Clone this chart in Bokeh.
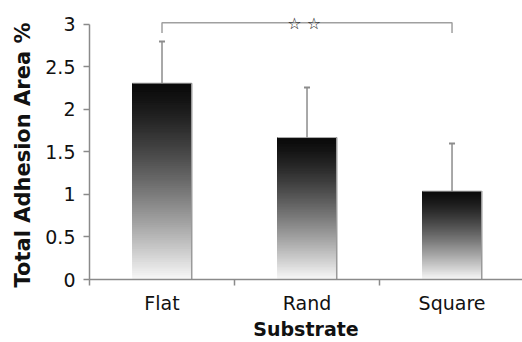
import math
from bokeh.plotting import figure
from bokeh.models import FixedTicker, Range1d, Title
from bokeh.core.properties import value
from bokeh.embed import file_html
from bokeh.resources import INLINE

# ---- data ----
categories = ["Flat", "Rand", "Square"]
means = [2.31, 1.67, 1.04]
errors = [0.49, 0.59, 0.56]
y_ticks = [0, 0.5, 1, 1.5, 2, 2.5, 3]
y_tick_labels = ["0", "0.5", "1", "1.5", "2", "2.5", "3"]
sig_pair = ["Flat", "Square"]
sig_y = 3.02
sig_drop = 2.9
sig_label = "☆ ☆"
x_title = "Substrate"
y_title = "Total Adhesion Area %"

FONT = "DejaVu Sans"
xpos = [i + 0.5 for i in range(len(categories))]
bar_w = 0.41

p = figure(width=522, height=342, output_backend="svg", toolbar_location=None,
           x_range=Range1d(0, 2.986), y_range=Range1d(0, 3.188),
           min_border_left=89, min_border_right=0, min_border_top=8,
           min_border_bottom=63)
p.outline_line_color = None
p.xgrid.visible = False
p.ygrid.visible = False
p.background_fill_color = "white"
p.border_fill_color = "white"

# gradient bars: black at top -> white at bottom (painted bottom-up, each slice to bar top)
N = 90
ql, qr, qb, qt, qc = [], [], [], [], []
for x, m in zip(xpos, means):
    for k in range(N):
        b = m * k / N
        d = 1 - (k + 0.5) / N  # distance from top (0 top, 1 bottom)
        g = int(round(10 + 238 * d ** 1.3))
        ql.append(x - bar_w / 2)
        qr.append(x + bar_w / 2)
        qb.append(b)
        qt.append(m)
        qc.append("#%02x%02x%02x" % (g, g, g))
p.quad(left=ql, right=qr, bottom=qb, top=qt, fill_color=qc, line_color=None)

# bar edge lines (top and right)
rx = [x + bar_w / 2 for x in xpos]
lx = [x - bar_w / 2 for x in xpos]
p.segment(x0=rx, y0=[0] * 3, x1=rx, y1=means, line_color="#9a9a9a", line_width=1.5)
p.segment(x0=lx, y0=means, x1=rx, y1=means, line_color="#b0b0b0", line_width=1)

# error bars (upper only)
tops = [m + e for m, e in zip(means, errors)]
p.segment(x0=xpos, y0=means, x1=xpos, y1=tops, line_color="#8c8c8c", line_width=1.5)
p.scatter(x=xpos, y=tops, marker="dash", size=6, line_color="#8c8c8c", line_width=2)

# significance bracket
i0 = categories.index(sig_pair[0])
i1 = categories.index(sig_pair[1])
bx = [xpos[i0], xpos[i0], xpos[i1], xpos[i1]]
by = [sig_drop, sig_y, sig_y, sig_drop]
p.line(x=bx, y=by, line_color="#a0a0a0", line_width=1.5)
p.text(x=[(xpos[i0] + xpos[i1]) / 2 - 0.02], y=[sig_y - 0.005], text=[sig_label],
       text_font=value(FONT), text_font_size="16px", text_color="#222222",
       text_align="center", text_baseline="alphabetic")

# axes
ya = p.yaxis[0]
ya.ticker = FixedTicker(ticks=y_ticks)
ya.major_label_overrides = {float(t): l for t, l in zip(y_ticks, y_tick_labels)}
ya.bounds = (0, 3)
ya.axis_line_color = "#8a8a8a"
ya.axis_line_width = 1.5
ya.major_tick_line_color = "#8a8a8a"
ya.major_tick_line_width = 1.5
ya.major_tick_out = 6
ya.major_tick_in = 0
ya.minor_tick_line_color = None
ya.major_label_text_font = FONT
ya.major_label_text_font_size = "19px"
ya.major_label_text_color = "#111111"
ya.major_label_standoff = 8

# y title as a left-side title (reference title sits slightly below frame centre)
p.add_layout(Title(text=y_title, align="left", offset=-8, standoff=16,
                   text_font=FONT, text_font_style="bold",
                   text_font_size="21px", text_color="#111111"), "left")

xa = p.xaxis[0]
xa.ticker = FixedTicker(ticks=xpos, minor_ticks=[0, 1, 2])
xa.major_label_overrides = {float(x): c for x, c in zip(xpos, categories)}
xa.axis_line_color = "#8a8a8a"
xa.axis_line_width = 1.5
xa.major_tick_line_color = None
xa.major_tick_out = 0
xa.major_tick_in = 0
xa.minor_tick_line_color = "#8a8a8a"
xa.minor_tick_line_width = 1.5
xa.minor_tick_out = 6
xa.minor_tick_in = 0
xa.major_label_text_font = FONT
xa.major_label_text_font_size = "19px"
xa.major_label_text_color = "#111111"
xa.major_label_standoff = 6
xa.axis_label = x_title
xa.axis_label_text_font = FONT
xa.axis_label_text_font_style = "bold"
xa.axis_label_text_font_size = "19px"
xa.axis_label_text_color = "#111111"
xa.axis_label_standoff = 1

open("out.html", "w").write(file_html(p, INLINE))
